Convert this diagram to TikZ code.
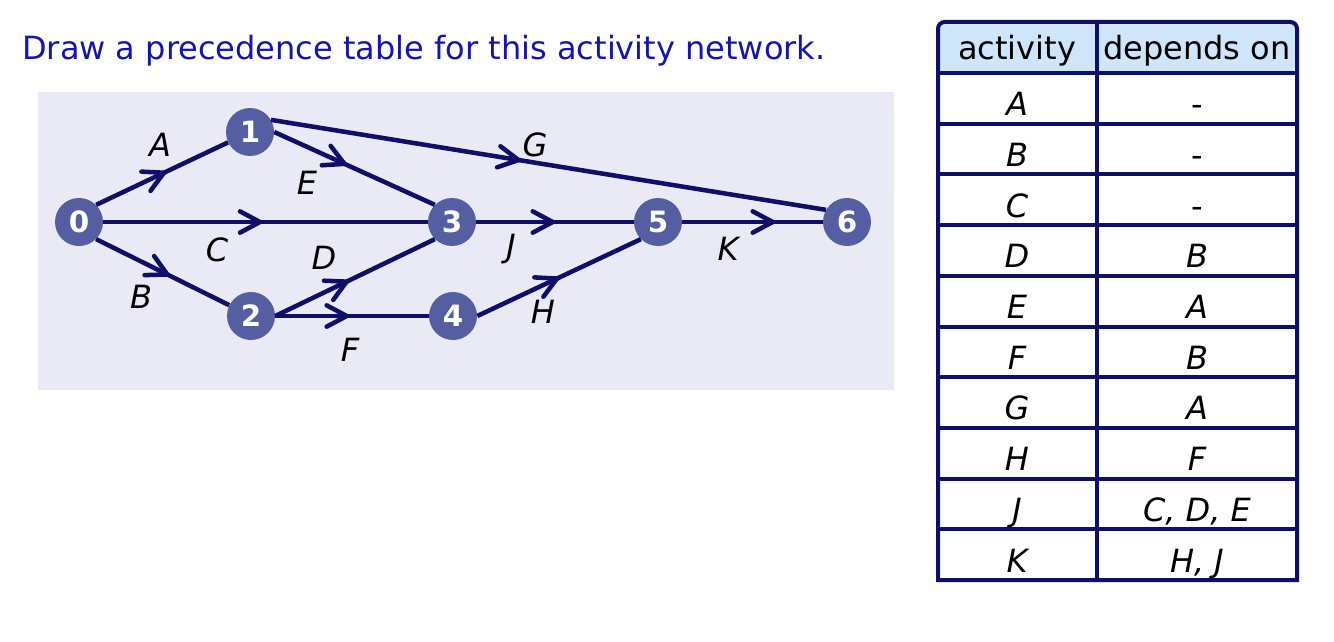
\documentclass[tikz,border=0pt]{standalone}
\usepackage{fontspec}
\setmainfont{DejaVu Sans}
\usetikzlibrary{arrows.meta,decorations.markings}

\definecolor{titleblue}{RGB}{20,20,175}
\definecolor{navy}{RGB}{15,15,105}
\definecolor{nodeblue}{RGB}{86,94,162}
\definecolor{panel}{RGB}{234,234,247}
\definecolor{headblue}{RGB}{206,229,250}

\tikzset{
  event/.style={circle, fill=nodeblue, text=white, font=\fontsize{22}{22}\selectfont\bfseries, minimum size=36pt, inner sep=0pt},
  act/.style={postaction={decorate}, decoration={markings, mark=at position #1 with {\arrow{Straight Barb[length=15pt,width=16pt,round]}}}},
  act/.default=0.5,
  lab/.style={font=\fontsize{24}{24}\selectfont\itshape, text=black, inner sep=0pt},
  cell/.style={font=\fontsize{24}{24}\selectfont, text=black, anchor=base, inner sep=0pt}
}

\begin{document}
\begin{tikzpicture}[x=0.75pt, y=-0.75pt]
        \useasboundingbox (0,0) rectangle (1334,642);

        % Title
        \node[anchor=base west, text=titleblue, font=\fontsize{24}{24}\selectfont, inner sep=0pt] (title) at (22,60) {Draw a precedence table for this activity network.};

        % Network
        \fill[panel] (38,92) rectangle (894,390);
        \node[event] (n0) at (79,222) {0};
        \node[event] (n1) at (250,132) {1};
        \node[event] (n2) at (251,316) {2};
        \node[event] (n3) at (452,222) {3};
        \node[event] (n4) at (453,316) {4};
        \node[event] (n5) at (658,222) {5};
        \node[event] (n6) at (847,222) {6};

        \begin{scope}[navy, line width=3.4pt]
            \draw[act=0.53] (n0.north east) -- (n1);
            \draw[act=0.49] (n0) -- (n3);
            \draw[act=0.55] (n0.south east) -- (n2);
            \draw[act=0.45] (n1.east) -- (n3.north west);
            \draw[act=0.45] (n1.30) -- (n6.150);
            \draw[act=0.46] (n2.east) -- (n3.south west);
            \draw[act=0.48] (n2) -- (n4);
            \draw[act=0.5] (n3) -- (n5);
            \draw[act=0.5] (n4.east) -- (n5.south west);
            \draw[act=0.66] (n5) -- (n6);
        \end{scope}

        \node[lab] (lA) at (160,145) {A};
        \node[lab] (lB) at (141,297) {B};
        \node[lab] (lC) at (217,250) {C};
        \node[lab] (lD) at (324,258) {D};
        \node[lab] (lE) at (307,183) {E};
        \node[lab] (lF) at (350,350) {F};
        \node[lab] (lG) at (535,145) {G};
        \node[lab] (lH) at (543,312) {H};
        \node[lab] (lJ) at (511,249) {J};
        \node[lab] (lK) at (728,249) {K};

        % Table
        \fill[headblue] (938,73) [rounded corners=5pt] -- (938,22) -- (1297,22) [sharp corners] -- (1297,73) -- cycle;
        \node[cell] (hact) at (1017,60) {activity};
        \node[cell] (hdep) at (1197,60) {depends on};
        \foreach \act/\dep [count=\r] in {A/{\upshape -}, B/{\upshape -}, C/{\upshape -}, D/B, E/A, F/B, G/A, H/F, J/{C, D, E}, K/{H, J}} {
            \node[cell, font=\fontsize{24}{24}\selectfont\itshape] (act\r) at (1017,{65+50.7*\r}) {\act};
            \node[cell, font=\fontsize{24}{24}\selectfont\itshape] (dep\r) at (1197,{65+50.7*\r}) {\dep};
        }
        \foreach \k in {0,...,9}
            \draw[navy, line width=3pt] (938,{73+50.7*\k}) -- (1297,{73+50.7*\k});
        \draw[navy, line width=3pt] (1097,22) -- (1097,580);
        \draw[navy, line width=3pt] (938,580) [rounded corners=5pt] -- (938,22) -- (1297,22) [sharp corners] -- (1297,580) -- cycle;
    \end{tikzpicture}
\end{document}
